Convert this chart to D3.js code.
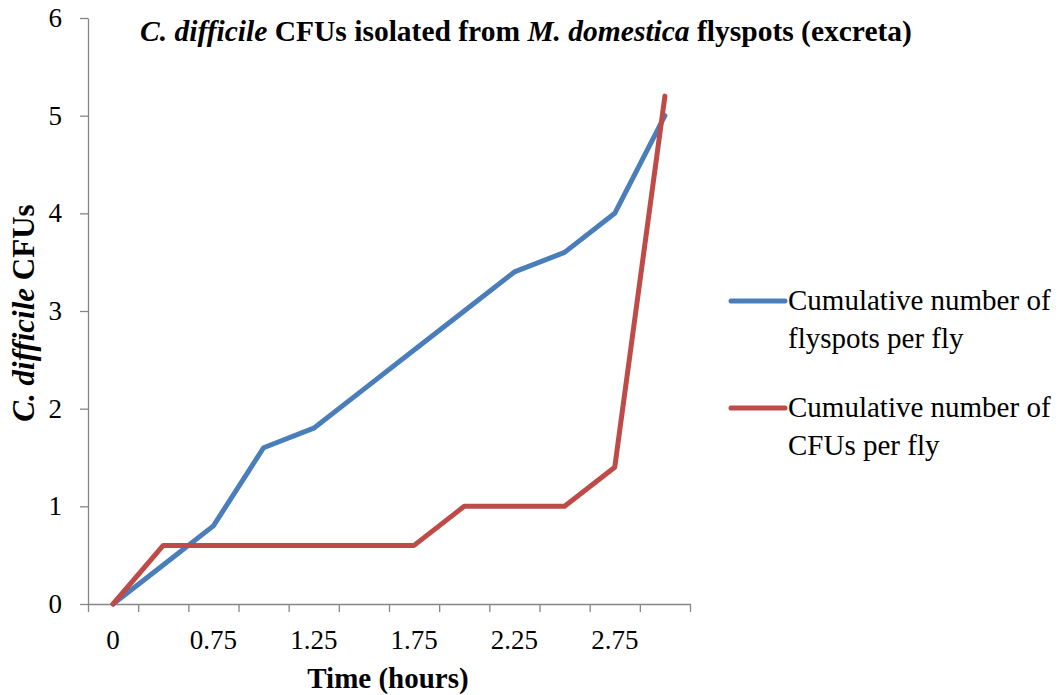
<!DOCTYPE html>
<html>
<head>
<meta charset="utf-8">
<script src="https://cdn.jsdelivr.net/npm/d3@7"></script>
<style>
  body { margin: 0; background: #fff; }
  svg text { font-family: "Liberation Serif", "Times New Roman", serif; fill: #000; }
</style>
</head>
<body>
<div id="chart"></div>
<script>
// time points (hours) on the category axis, only every other one is labelled
var times = [0, 0.5, 0.75, 1, 1.25, 1.5, 1.75, 2, 2.25, 2.5, 2.75, 3];
var timeLabels = ["0", "", "0.75", "", "1.25", "", "1.75", "", "2.25", "", "2.75", ""];
var flyspots = [0, 0.4, 0.8, 1.6, 1.8, 2.2, 2.6, 3.0, 3.4, 3.6, 4.0, 5.0];
var cfus = [0, 0.6, 0.6, 0.6, 0.6, 0.6, 0.6, 1.0, 1.0, 1.0, 1.4, 5.2];
var yTicks = [0, 1, 2, 3, 4, 5, 6];
var seriesNames = [
  ["Cumulative number of", "flyspots per fly"],
  ["Cumulative number of", "CFUs per fly"]
];
var seriesColors = ["#4a7ebb", "#be4b48"];

var width = 1064, height = 695;
var margin = { left: 88, right: 374, top: 18, bottom: 91 };
var serif = "'Liberation Serif', 'Times New Roman', serif";

var svg = d3.select("#chart").append("svg")
  .attr("width", width)
  .attr("height", height);

var xScale = d3.scaleBand()
  .domain(d3.range(times.length))
  .range([margin.left, width - margin.right]);

// boundaries between categories carry the tick marks
var xEdges = d3.scaleLinear()
  .domain([0, times.length])
  .range([margin.left, width - margin.right]);

var yScale = d3.scaleLinear()
  .domain([0, 6])
  .range([height - margin.bottom, margin.top]);

var axisColor = "#868686";

// y axis
var yAxis = svg.append("g")
  .attr("transform", "translate(" + margin.left + ",0)")
  .call(d3.axisLeft(yScale).tickValues(yTicks).tickSize(8).tickSizeOuter(0)
    .tickPadding(18).tickFormat(d3.format("d")));
yAxis.select(".domain").attr("stroke", axisColor).attr("stroke-width", 1.3);
yAxis.selectAll(".tick line").attr("stroke", axisColor).attr("stroke-width", 1.3);
yAxis.selectAll(".tick text")
  .style("font-size", "27px")
  .style("font-family", serif);

// x axis: tick marks at the category edges
var xAxis = svg.append("g")
  .attr("transform", "translate(0," + yScale(0) + ")")
  .call(d3.axisBottom(xEdges).tickValues(d3.range(times.length + 1)).tickSize(8).tickSizeOuter(0).tickFormat(""));
xAxis.select(".domain").attr("stroke", axisColor).attr("stroke-width", 1.3);
xAxis.selectAll(".tick line").attr("stroke", axisColor).attr("stroke-width", 1.3);

// x labels at category centres
var xLabels = svg.append("g")
  .attr("transform", "translate(0," + yScale(0) + ")")
  .call(d3.axisBottom(xScale).tickSize(0).tickPadding(26).tickFormat(function(i) { return timeLabels[i]; }));
xLabels.select(".domain").remove();
xLabels.selectAll(".tick text")
  .style("font-size", "27px")
  .style("font-family", serif);

// series lines
var line = d3.line()
  .x(function(d, i) { return xScale(i) + xScale.bandwidth() / 2; })
  .y(function(d) { return yScale(d); });

[flyspots, cfus].forEach(function(values, k) {
  svg.append("path")
    .datum(values)
    .attr("fill", "none")
    .attr("stroke", seriesColors[k])
    .attr("stroke-width", 5)
    .attr("stroke-linejoin", "round")
    .attr("stroke-linecap", "round")
    .attr("d", line);
});

// title
var title = svg.append("text")
  .attr("x", 526)
  .attr("y", 41)
  .attr("text-anchor", "middle")
  .style("font-family", serif)
  .style("font-size", "29.5px")
  .style("font-weight", "bold");
title.append("tspan").style("font-style", "italic").text("C. difficile");
title.append("tspan").text(" CFUs isolated from ");
title.append("tspan").style("font-style", "italic").text("M. domestica");
title.append("tspan").text(" flyspots (excreta)");

// axis titles
var yTitle = svg.append("text")
  .attr("transform", "translate(34,313) rotate(-90)")
  .attr("text-anchor", "middle")
  .style("font-family", serif)
  .style("font-size", "31px")
  .style("font-weight", "bold");
yTitle.append("tspan").style("font-style", "italic").text("C. difficile");
yTitle.append("tspan").text(" CFUs");

svg.append("text")
  .attr("x", 388)
  .attr("y", 688)
  .attr("text-anchor", "middle")
  .style("font-family", serif)
  .style("font-size", "29px")
  .style("font-weight", "bold")
  .text("Time (hours)");

// legend
var legend = svg.append("g");
seriesNames.forEach(function(lines, k) {
  var y0 = 301 + k * 107;
  legend.append("line")
    .attr("x1", 731).attr("x2", 785)
    .attr("y1", y0).attr("y2", y0)
    .attr("stroke", seriesColors[k])
    .attr("stroke-width", 5)
    .attr("stroke-linecap", "round");
  lines.forEach(function(t, j) {
    legend.append("text")
      .attr("x", 788)
      .attr("y", y0 + 9 + j * 38)
      .style("font-family", serif)
      .style("font-size", "29px")
      .text(t);
  });
});
</script>
</body>
</html>
